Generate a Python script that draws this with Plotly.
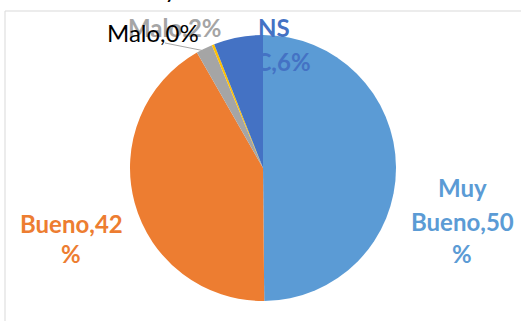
import plotly.graph_objects as go

# Survey responses (share of answers)
categories = ["Muy Bueno", "Bueno", "Malo", "Muy Malo", "NS/NC"]
values = [50, 42, 2, 0.3, 6]
colors = ["#5B9BD5", "#ED7D31", "#A5A5A5", "#FFC000", "#4472C4"]
label_colors = ["#5B9BD5", "#ED7D31", "#A5A5A5", "#000000", "#4472C4"]

W, H = 521, 321
total = sum(values)
pcts = [round(v / total * 100) for v in values]


def label_lines(name, pct, wrap):
    """Build 'Name,NN%' and split it into the lines used on the chart."""
    s = f"{name},{pct}%"
    if wrap == "muybueno":
        s = s.replace("Muy ", "Muy\n").replace("%", "\n%")
    elif wrap == "pct":
        s = s.replace("%", "\n%")
    elif wrap == "space":
        s = s.replace(" ", "\n")
    elif wrap == "slash":
        s = s.replace("/", "\n")
    return s.split("\n")


fig = go.Figure(
    go.Pie(
        labels=categories,
        values=values,
        marker=dict(colors=colors, line=dict(width=0)),
        sort=False,
        direction="clockwise",
        rotation=0,
        textinfo="none",
        hoverinfo="label+percent",
        showlegend=False,
        domain=dict(x=[130 / W, 396 / W], y=[1 - 301 / H, 1 - 35 / H]),
    )
)

font_face = "Lato"
# label placement: x px, line centre y px (one per line), wrap style, bold
placement = [
    (462, [188, 221, 253], "muybueno", True),
    (71, [223, 253], "pct", True),
    (175, [27], None, True),
    (153, [-12, 32], "space", False),
    (274, [27, 61], "slash", True),
]

annotations = []
for name, pct, col, (px, ys, wrap, bold) in zip(categories, pcts, label_colors, placement):
    for line, py in zip(label_lines(name, pct, wrap), ys):
        annotations.append(
            dict(
                x=px / W, y=1 - py / H, xref="paper", yref="paper",
                text=line,
                showarrow=False, align="center",
                xanchor="center", yanchor="middle",
                font=dict(family=font_face, size=24, color=col,
                          weight="bold" if bold else "normal"),
            )
        )

shapes = [
    # chart frame edges
    dict(type="line", xref="paper", yref="paper",
         x0=5 / W, x1=1, y0=1 - 11 / H, y1=1 - 11 / H,
         line=dict(color="#D9D9D9", width=1)),
    dict(type="line", xref="paper", yref="paper",
         x0=5 / W, x1=5 / W, y0=0, y1=1 - 11 / H,
         line=dict(color="#D9D9D9", width=1)),
    # leader line for the smallest slice
    dict(type="line", xref="paper", yref="paper",
         x0=165 / W, x1=205 / W, y0=1 - 43 / H, y1=1 - 51 / H,
         line=dict(color="#A6A6A6", width=1)),
]

fig.update_layout(
    width=W, height=H,
    margin=dict(l=0, r=0, t=0, b=0),
    paper_bgcolor="white",
    plot_bgcolor="white",
    annotations=annotations,
    shapes=shapes,
)

fig.write_html("out.html")
